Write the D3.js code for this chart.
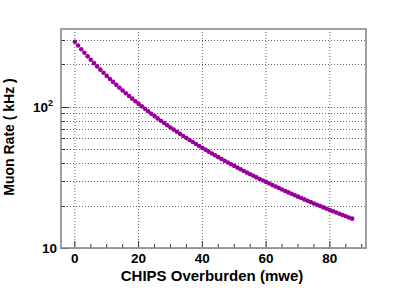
<!DOCTYPE html>
<html>
<head>
<meta charset="utf-8">
<script src="https://cdn.jsdelivr.net/npm/d3@7"></script>
<style>
  body { margin: 0; background: #fff; }
  text { font-family: "Liberation Sans", Arial, Helvetica, sans-serif; font-weight: bold; fill: #000; }
</style>
</head>
<body>
<div id="chart"></div>
<script>
var overburden = [0, 1, 2, 3, 4, 5, 6, 7, 8, 9, 10, 11, 12, 13, 14, 15, 16, 17, 18, 19,
    20, 21, 22, 23, 24, 25, 26, 27, 28, 29, 30, 31, 32, 33, 34, 35, 36, 37, 38, 39,
    40, 41, 42, 43, 44, 45, 46, 47, 48, 49, 50, 51, 52, 53, 54, 55, 56, 57, 58, 59,
    60, 61, 62, 63, 64, 65, 66, 67, 68, 69, 70, 71, 72, 73, 74, 75, 76, 77, 78, 79,
    80, 81, 82, 83, 84, 85, 86, 87];
var muonRate = [290.0, 272.7, 256.7, 242.0, 228.5, 216.0, 204.5, 193.8, 183.9, 174.6,
    166.0, 158.0, 150.5, 143.5, 136.9, 130.8, 125.0, 119.6, 114.5, 109.8,
    105.2, 101.0, 96.96, 93.16, 89.56, 86.16, 82.93, 79.87, 76.96, 74.20,
    71.58, 69.08, 66.71, 64.45, 62.30, 60.25, 58.29, 56.41, 54.63, 52.91,
    51.27, 49.70, 48.20, 46.76, 45.38, 44.06, 42.79, 41.57, 40.40, 39.27,
    38.19, 37.15, 36.15, 35.18, 34.25, 33.36, 32.50, 31.67, 30.87, 30.09,
    29.35, 28.63, 27.93, 27.26, 26.61, 25.98, 25.37, 24.78, 24.21, 23.66,
    23.13, 22.61, 22.11, 21.62, 21.15, 20.69, 20.25, 19.82, 19.40, 18.99,
    18.60, 18.22, 17.85, 17.49, 17.14, 16.80, 16.47, 16.15];
var xMajorTicks = [0, 20, 40, 60, 80],
    xMinorTicks = [5, 10, 15, 25, 30, 35, 45, 50, 55, 65, 70, 75, 85, 90],
    yMajorTicks = [10, 100],
    yMinorTicks = [20, 30, 40, 50, 60, 70, 80, 90, 200, 300];

var W = 407, H = 292,
    margin = { top: 29, right: 41, bottom: 44, left: 61 },
    width = W - margin.left - margin.right,
    height = H - margin.top - margin.bottom;

var svg = d3.select("#chart").append("svg")
    .attr("width", W)
    .attr("height", H);

var x = d3.scaleLinear().domain([-4.35, 91.35]).range([0, width]);
var y = d3.scaleLog().domain([10, 357]).range([height, 0]);

var g = svg.append("g")
    .attr("transform", "translate(" + margin.left + "," + margin.top + ")");

// grid
g.selectAll(".vgrid")
    .data(xMajorTicks)
    .enter().append("line")
    .attr("x1", function(d) { return x(d); })
    .attr("x2", function(d) { return x(d); })
    .attr("y1", 0)
    .attr("y2", height)
    .attr("stroke", "#666")
    .attr("stroke-dasharray", "1,2");

g.selectAll(".hgrid")
    .data(yMajorTicks.concat(yMinorTicks))
    .enter().append("line")
    .attr("x1", 0)
    .attr("x2", width)
    .attr("y1", function(d) { return Math.round(y(d)) + 0.5; })
    .attr("y2", function(d) { return Math.round(y(d)) + 0.5; })
    .attr("stroke", "#666")
    .attr("stroke-dasharray", "1,2");

// ticks
g.selectAll(".xmaj")
    .data(xMajorTicks)
    .enter().append("line")
    .attr("x1", function(d) { return x(d); })
    .attr("x2", function(d) { return x(d); })
    .attr("y1", height)
    .attr("y2", height - 7)
    .attr("stroke", "#333");

g.selectAll(".xmin")
    .data(xMinorTicks)
    .enter().append("line")
    .attr("x1", function(d) { return x(d); })
    .attr("x2", function(d) { return x(d); })
    .attr("y1", height)
    .attr("y2", height - 4)
    .attr("stroke", "#333");

g.selectAll(".ymaj")
    .data(yMajorTicks)
    .enter().append("line")
    .attr("x1", 0)
    .attr("x2", 8)
    .attr("y1", function(d) { return Math.round(y(d)) + 0.5; })
    .attr("y2", function(d) { return Math.round(y(d)) + 0.5; })
    .attr("stroke", "#333");

g.selectAll(".ymin")
    .data(yMinorTicks)
    .enter().append("line")
    .attr("x1", 0)
    .attr("x2", 4)
    .attr("y1", function(d) { return Math.round(y(d)) + 0.5; })
    .attr("y2", function(d) { return Math.round(y(d)) + 0.5; })
    .attr("stroke", "#333");

// frame
g.append("rect")
    .attr("x", 0)
    .attr("y", 0)
    .attr("width", width)
    .attr("height", height)
    .attr("fill", "none")
    .attr("stroke", "#888")
    .attr("stroke-width", 1.6);

// points
g.selectAll(".dot")
    .data(overburden)
    .enter().append("circle")
    .attr("cx", function(d) { return x(d); })
    .attr("cy", function(d, i) { return y(muonRate[i]); })
    .attr("r", 2.3)
    .attr("fill", "#990099");

// tick labels
g.selectAll(".xlab")
    .data(xMajorTicks)
    .enter().append("text")
    .attr("x", function(d) { return x(d); })
    .attr("y", height + 15)
    .attr("text-anchor", "middle")
    .style("font-size", "13.5px")
    .text(function(d) { return d; });

g.append("text")
    .attr("x", -4)
    .attr("y", y(10) + 5)
    .attr("text-anchor", "end")
    .style("font-size", "13.5px")
    .text("10");

var sup = g.append("text")
    .attr("x", -8)
    .attr("y", y(100) + 5)
    .attr("text-anchor", "end")
    .style("font-size", "13.5px");
sup.append("tspan").text("10");
sup.append("tspan")
    .attr("dy", -6)
    .style("font-size", "9px")
    .text("2");

// axis titles
svg.append("text")
    .attr("x", 212)
    .attr("y", 281)
    .attr("text-anchor", "middle")
    .style("font-size", "15px")
    .text("CHIPS Overburden (mwe)");

svg.append("text")
    .attr("transform", "translate(14,137) rotate(-90)")
    .attr("text-anchor", "middle")
    .style("font-size", "14px")
    .text("Muon Rate ( kHz )");
</script>
</body>
</html>
